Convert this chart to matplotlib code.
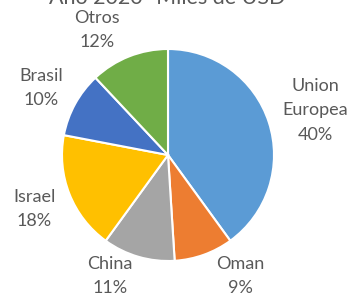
import matplotlib
matplotlib.use("Agg")
import matplotlib.pyplot as plt

# Datos
paises = ["Union\nEuropea", "Oman", "China", "Israel", "Brasil", "Otros"]
porcentajes = [40, 9, 11, 18, 10, 12]
colores = ["#5B9BD5", "#ED7D31", "#A5A5A5", "#FFC000", "#4472C4", "#70AD47"]

# posiciones de etiquetas (radio del pie = 1)
pos_etiquetas = [(1.39, 0.42), (0.68, -1.14), (-0.55, -1.14),
                 (-1.26, -0.51), (-1.20, 0.63), (-0.67, 1.18)]

plt.rcParams['font.family'] = ['Lato', 'DejaVu Sans']

fig = plt.figure(figsize=(3.5, 2.93), dpi=100)
ax = fig.add_axes([0, 0, 1, 1])

etiquetas = [f"{p}\n{v}%" for p, v in zip(paises, porcentajes)]
wedges, textos = ax.pie(porcentajes, colors=colores, startangle=90,
                        counterclock=False, labels=etiquetas,
                        wedgeprops=dict(edgecolor="white", linewidth=1.5),
                        textprops=dict(color="#595959", fontsize=13,
                                       ha="center", va="center",
                                       linespacing=1.65))
for t, (x, y) in zip(textos, pos_etiquetas):
    t.set_position((x, y))
    t.set_horizontalalignment("center")

ax.set_xlim(-168 / 106, 182 / 106)
ax.set_ylim(-138 / 106, 155 / 106)
ax.axis("off")

# titulo (cortado arriba como en el original)
fig.text(0.477, 0.986, "Año 2020- Miles de USD", ha="center", va="baseline",
         fontsize=15.5, color="#595959")

fig.savefig("out.png", dpi=100)
